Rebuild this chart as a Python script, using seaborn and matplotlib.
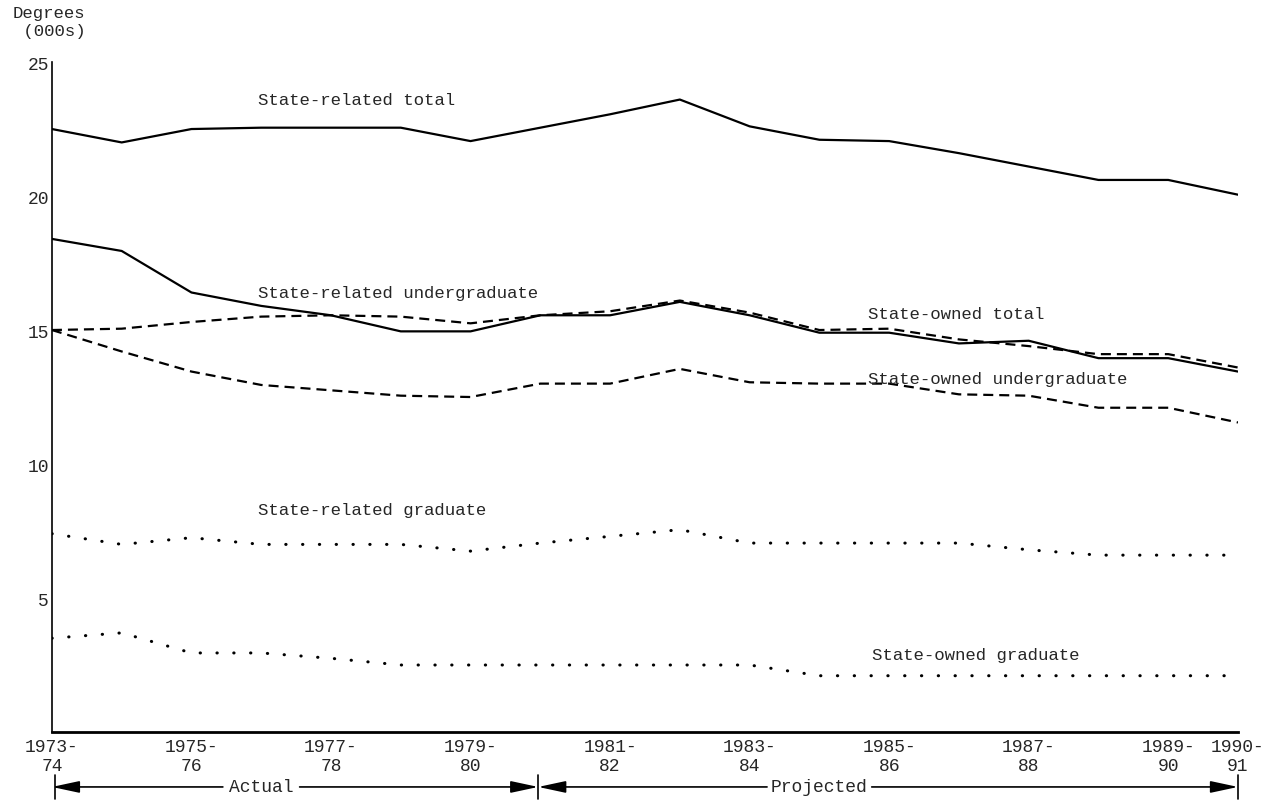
import matplotlib
matplotlib.use("Agg")
import matplotlib.pyplot as plt
import seaborn as sns

# Degrees conferred (thousands)
years = ["1973-74", "1974-75", "1975-76", "1976-77", "1977-78", "1978-79",
         "1979-80", "1980-81", "1981-82", "1982-83", "1983-84", "1984-85",
         "1985-86", "1986-87", "1987-88", "1988-89", "1989-90", "1990-91"]
x = list(range(len(years)))

state_related_total = [22.5, 22.0, 22.5, 22.55, 22.55, 22.55, 22.05, 22.55, 23.05,
                       23.6, 22.6, 22.1, 22.05, 21.6, 21.1, 20.6, 20.6, 20.05]
state_related_ug = [18.4, 17.95, 16.4, 15.9, 15.55, 14.95, 14.95, 15.55, 15.55,
                    16.05, 15.55, 14.9, 14.9, 14.5, 14.6, 13.95, 13.95, 13.45]
state_owned_total = [15.0, 15.05, 15.3, 15.5, 15.55, 15.5, 15.25, 15.55, 15.7,
                     16.1, 15.65, 15.0, 15.05, 14.65, 14.4, 14.1, 14.1, 13.6]
state_owned_ug = [15.0, 14.2, 13.45, 12.95, 12.75, 12.55, 12.5, 13.0, 13.0,
                  13.55, 13.05, 13.0, 13.0, 12.6, 12.55, 12.1, 12.1, 11.55]
state_related_grad = [7.4, 7.0, 7.25, 7.0, 7.0, 7.0, 6.75, 7.05, 7.3,
                      7.55, 7.05, 7.05, 7.05, 7.05, 6.8, 6.6, 6.6, 6.6]
state_owned_grad = [3.5, 3.7, 2.95, 2.95, 2.75, 2.5, 2.5, 2.5, 2.5,
                    2.5, 2.5, 2.1, 2.1, 2.1, 2.1, 2.1, 2.1, 2.1]

tick_pos = [0, 2, 4, 6, 8, 10, 12, 14, 16, 17]
tick_labels = ["1973-\n74", "1975-\n76", "1977-\n78", "1979-\n80", "1981-\n82",
               "1983-\n84", "1985-\n86", "1987-\n88", "1989-\n90", "1990-\n91"]
y_ticks = [5, 10, 15, 20, 25]

sns.set_style("white")
plt.rcParams["font.family"] = ["Liberation Mono", "DejaVu Sans Mono"]

fig = plt.figure(figsize=(12.73, 8.04), dpi=100)
ax = fig.add_axes([0.0408, 0.0883, 0.9317, 0.8333])

solid = dict(color="black", linewidth=1.6)
dashed = dict(color="black", linewidth=1.6, linestyle=(0, (4.5, 2.7)))
dotted = dict(color="black", linewidth=2.2, linestyle=(0, (0.1, 5.4)),
              dash_capstyle="round")

sns.lineplot(x=x, y=state_related_total, ax=ax, **solid)
sns.lineplot(x=x, y=state_related_ug, ax=ax, **solid)
sns.lineplot(x=x, y=state_owned_total, ax=ax, **dashed)
sns.lineplot(x=x, y=state_owned_ug, ax=ax, **dashed)
sns.lineplot(x=x, y=state_related_grad, ax=ax, **dotted)
sns.lineplot(x=x, y=state_owned_grad, ax=ax, **dotted)

# line labels
fs = 12.5
ax.text(2.96, 23.6, "State-related total", fontsize=fs, va="center")
ax.text(2.96, 16.4, "State-related undergraduate", fontsize=fs, va="center")
ax.text(11.7, 15.6, "State-owned total", fontsize=fs, va="center")
ax.text(11.7, 13.2, "State-owned undergraduate", fontsize=fs, va="center")
ax.text(2.96, 8.3, "State-related graduate", fontsize=fs, va="center")
ax.text(11.75, 2.9, "State-owned graduate", fontsize=fs, va="center")

ax.set_xlim(0, 17)
ax.set_ylim(0, 25)
ax.set_xticks(tick_pos)
ax.set_xticklabels(tick_labels, fontsize=13, linespacing=1.15)
ax.set_yticks(y_ticks)
ax.set_yticklabels([str(v) for v in y_ticks], fontsize=13)
ax.tick_params(axis="both", length=0)
ax.tick_params(axis="x", pad=4)
ax.tick_params(axis="y", pad=2)
ax.set_xlabel("")
ax.set_ylabel("")

sns.despine(ax=ax)
ax.spines["left"].set_linewidth(1.2)
ax.spines["bottom"].set_linewidth(2.0)
ax.spines["left"].set_color("black")
ax.spines["bottom"].set_color("black")

fig.text(0.01, 0.972, "Degrees\n (000s)", fontsize=12.5, ha="left", va="center",
         linespacing=1.2)

# Actual / Projected span markers under the axis
yb = -2.05
arrow = dict(arrowstyle="-|>,head_length=1.4,head_width=0.3", color="black",
             lw=1.2, mutation_scale=12, shrinkA=0, shrinkB=0)
for x0, x1 in [(2.45, 0), (3.55, 6.97), (10.25, 6.97), (11.75, 17)]:
    ax.annotate("", xy=(x1, yb), xytext=(x0, yb), arrowprops=arrow,
                annotation_clip=False)
for xb in [0.04, 6.97, 17]:
    ax.plot([xb, xb], [yb - 0.45, yb + 0.45], color="black", lw=1.2,
            clip_on=False)
ax.text(3.0, yb, "Actual", fontsize=13, ha="center", va="center")
ax.text(11.0, yb, "Projected", fontsize=13, ha="center", va="center")

fig.savefig("out.png", dpi=100, facecolor="white")
